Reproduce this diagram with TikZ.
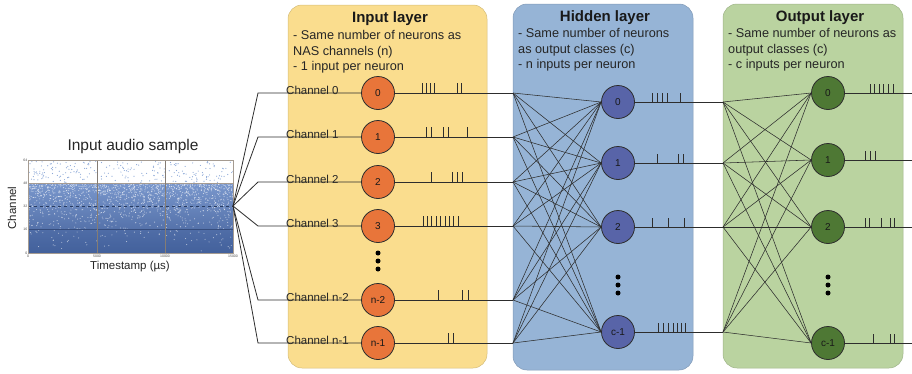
\documentclass[tikz,border=0pt]{standalone}
\usepackage{fontspec}
\setmainfont{Liberation Sans}
\definecolor{inbox}{RGB}{250,221,142}
\definecolor{hidbox}{RGB}{150,180,214}
\definecolor{outbox}{RGB}{186,211,160}
\definecolor{inneu}{RGB}{232,117,58}
\definecolor{hidneu}{RGB}{88,100,168}
\definecolor{outneu}{RGB}{78,120,52}
\definecolor{ink}{RGB}{45,45,45}
\definecolor{plotblue}{RGB}{78,112,180}
\definecolor{plotlight}{RGB}{140,168,215}
\definecolor{gridc}{RGB}{165,155,145}
\begin{document}
\begin{tikzpicture}[x=1pt,y=-1pt,
  wire/.style={draw=ink, line width=0.8pt},
  fanline/.style={draw=ink, line width=0.55pt},
  spike/.style={draw=ink, line width=0.7pt},
  layerbox/.style={rounded corners=14pt, line width=0.5pt},
  neuron/.style={circle, draw=ink, line width=0.8pt, minimum size=33pt, inner sep=0pt, font=\fontsize{10}{12}\selectfont, text=black!90},
  inneuron/.style={neuron, fill=inneu},
  hidneuron/.style={neuron, fill=hidneu},
  outneuron/.style={neuron, fill=outneu},
  title/.style={font=\bfseries\fontsize{15}{18}\selectfont, text=black!90, anchor=base},
  desc/.style={font=\fontsize{12.7}{15}\selectfont, text=black!85, anchor=base west, inner sep=0pt},
  chan/.style={font=\fontsize{11.5}{14}\selectfont, text=black!85, anchor=base west, inner sep=0pt},
  tick/.style={font=\fontsize{3.5}{4}\selectfont, text=black!70, inner sep=0.5pt},
  vdot/.style={circle, fill=black, inner sep=0pt, minimum size=5pt}
]
\useasboundingbox (0,0) rectangle (912,373);

% ---------- layer boxes ----------
\path[layerbox, fill=inbox, draw=inbox!85!black] (288,5) rectangle (487,368);
\path[layerbox, fill=hidbox, draw=hidbox!85!black] (513,4) rectangle (693,370);
\path[layerbox, fill=outbox, draw=outbox!85!black] (723,4) rectangle (903,368);

% ---------- titles and descriptions ----------
\node[title] (tin) at (390,22) {Input layer};
\node[desc] (din1) at (293,39) {- Same number of neurons as};
\node[desc] (din2) at (293,55) {NAS channels (n)};
\node[desc] (din3) at (293,70) {- 1 input per neuron};

\node[title] (thid) at (605,21) {Hidden layer};
\node[desc] (dhid1) at (518,37) {- Same number of neurons};
\node[desc] (dhid2) at (518,53) {as output classes (c)};
\node[desc] (dhid3) at (518,68) {- n inputs per neuron};

\node[title] (tout) at (820,21) {Output layer};
\node[desc] (dout1) at (728,37) {- Same number of neurons as};
\node[desc] (dout2) at (728,53) {output classes (c)};
\node[desc] (dout3) at (728,68) {- c inputs per neuron};

% ---------- input audio sample plot ----------
\node[font=\fontsize{15.5}{18}\selectfont, text=black!85] (ptitle) at (133,146) {Input audio sample};
\begin{scope}
  \clip (28,160) rectangle (233,253);
  \shade[top color=plotlight!70!plotblue, bottom color=plotblue!85!black] (28,183) rectangle (233,253);
  \fill[plotblue!90!black, opacity=0.35] (28,229) rectangle (233,253);
  \pgfmathsetseed{11}
  \foreach \i in {1,...,1500}{
    \pgfmathsetmacro\px{28+205*rnd}
    \pgfmathsetmacro\py{183+70*rnd*rnd}
    \fill[white, opacity=0.6] (\px,\py) circle (0.55pt);
  }
  \foreach \i in {1,...,220}{
    \pgfmathsetmacro\px{28+205*rnd}
    \pgfmathsetmacro\py{161+22*rnd}
    \fill[plotlight] (\px,\py) circle (0.6pt);
  }
  \draw[plotblue!55!black, dashed, line width=0.7pt] (28,206) -- (233,206);
\end{scope}
\draw[gridc, line width=0.5pt] (28,183) -- (233,183);
\draw[plotblue!70!black, line width=0.3pt] (28,229) -- (233,229);
\draw[gridc!80!black, line width=0.5pt] (97,160) -- (97,253) (165,160) -- (165,253);
\draw[gridc, line width=0.6pt] (28,160) rectangle (233,253);
\node[tick, anchor=east] (y64) at (28,160) {64};
\node[tick, anchor=east] (y48) at (28,183) {48};
\node[tick, anchor=east] (y32) at (28,206) {32};
\node[tick, anchor=east] (y16) at (28,229) {16};
\node[tick, anchor=east] (y0) at (28,253) {0};
\node[tick, anchor=north] (x0) at (28,254) {0};
\node[tick, anchor=north] (x1) at (97,254) {5000};
\node[tick, anchor=north] (x2) at (165,254) {10000};
\node[tick, anchor=north] (x3) at (233,254) {15000};
\node[font=\fontsize{11.5}{14}\selectfont, text=black!85] (xlab) at (130,267) {Timestamp (µs)};
\node[font=\fontsize{11.5}{14}\selectfont, text=black!85, rotate=90] (ylab) at (12,208) {Channel};

% ---------- coordinates ----------
\coordinate (f) at (233,206);
\foreach \k/\y in {0/93,1/137,2/182,3/226,4/300,5/343}{
  \coordinate (a\k) at (258,\y);
  \coordinate (b\k) at (513,\y);
}
\foreach \k/\y in {0/102,1/163,2/227,3/332}{
  \coordinate (c\k) at (723,\y);
}
\foreach \k/\y in {0/93,1/160,2/227,3/343}{
  \coordinate (e\k) at (912,\y);
}

% ---------- neurons ----------
\node[inneuron] (i0) at (378,93) {0};
\node[inneuron] (i1) at (378,137) {1};
\node[inneuron] (i2) at (378,182) {2};
\node[inneuron] (i3) at (378,226) {3};
\node[inneuron] (i4) at (378,300) {n-2};
\node[inneuron] (i5) at (378,343) {n-1};

\node[hidneuron] (h0) at (618,102) {0};
\node[hidneuron] (h1) at (618,163) {1};
\node[hidneuron] (h2) at (618,227) {2};
\node[hidneuron] (h3) at (618,332) {c-1};

\node[outneuron] (o0) at (828,93) {0};
\node[outneuron] (o1) at (828,160) {1};
\node[outneuron] (o2) at (828,227) {2};
\node[outneuron] (o3) at (828,343) {c-1};

% vertical dots
\node[vdot] (di1) at (378,253) {};
\node[vdot] (di2) at (378,261) {};
\node[vdot] (di3) at (378,269) {};
\node[vdot] (dh1) at (618,277) {};
\node[vdot] (dh2) at (618,285) {};
\node[vdot] (dh3) at (618,293) {};
\node[vdot] (do1) at (828,277) {};
\node[vdot] (do2) at (828,285) {};
\node[vdot] (do3) at (828,293) {};

% ---------- channel labels ----------
\node[chan] (l0) at (286,94) {Channel 0};
\node[chan] (l1) at (286,138) {Channel 1};
\node[chan] (l2) at (286,183) {Channel 2};
\node[chan] (l3) at (286,227) {Channel 3};
\node[chan] (l4) at (286,301) {Channel n-2};
\node[chan] (l5) at (286,344) {Channel n-1};

% ---------- connectors ----------
\foreach \k in {0,...,5}{
  \draw[wire] (f) -- (a\k) -- (i\k.west);
  \draw[wire] (i\k.east) -- (b\k);
  \foreach \j in {0,...,3}{
    \draw[fanline] (b\k) -- (h\j.west);
  }
}
\foreach \j in {0,...,3}{
  \draw[wire] (h\j.east) -- (c\j);
  \foreach \m in {0,...,3}{
    \draw[fanline] (c\j) -- (o\m.west);
  }
  \draw[wire] (o\j.east) -- (e\j);
}

% ---------- spike trains ----------
\foreach \x in {422,426,430,434,457,461} \draw[spike] (\x,93) -- ++(0,-10);
\foreach \x in {426,431,443,448,467} \draw[spike] (\x,137) -- ++(0,-10);
\foreach \x in {431,452,457,462} \draw[spike] (\x,182) -- ++(0,-10);
\foreach \x in {423,427.4,431.8,436.2,440.6,445,449.4,453.8,458.2} \draw[spike] (\x,226) -- ++(0,-10);
\foreach \x in {438,462,468} \draw[spike] (\x,300) -- ++(0,-10);
\foreach \x in {448,453} \draw[spike] (\x,343) -- ++(0,-10);

\foreach \x in {652,657,662,667,680} \draw[spike] (\x,102) -- ++(0,-9);
\foreach \x in {657,678,683} \draw[spike] (\x,163) -- ++(0,-9);
\foreach \x in {652,668,684} \draw[spike] (\x,227) -- ++(0,-9);
\foreach \x in {658,663,668,673,677,681,685} \draw[spike] (\x,332) -- ++(0,-9);

\foreach \x in {870,874.6,879.2,883.8,888.4,893} \draw[spike] (\x,93) -- ++(0,-9);
\foreach \x in {865,870,875} \draw[spike] (\x,160) -- ++(0,-9);
\foreach \x in {865,869,881,890,894} \draw[spike] (\x,227) -- ++(0,-9);
\foreach \x in {873,890,894} \draw[spike] (\x,343) -- ++(0,-9);
\end{tikzpicture}
\end{document}
